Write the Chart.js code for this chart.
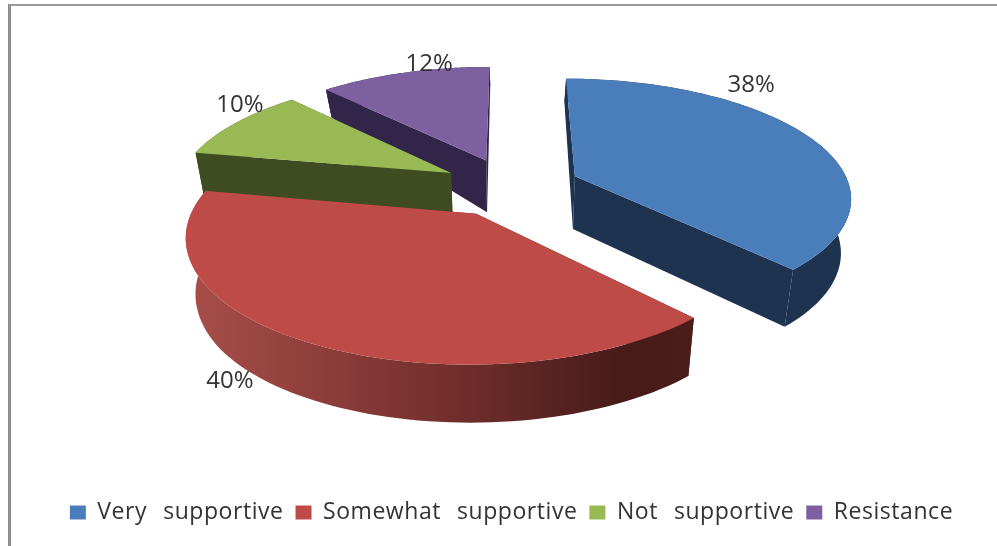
<!DOCTYPE html>
<html lang="en">
<head>
  <meta charset="UTF-8">
  <title>Support levels</title>
  <script src="https://cdn.jsdelivr.net/npm/chart.js"></script>
  <style>
    html, body { margin: 0; padding: 0; background: #fff; overflow: hidden; }
    #wrap { position: relative; width: 997px; height: 546px; }
    #frame { position: absolute; left: 8px; top: 4px; right: 0; bottom: 0;
             border-left: 3px solid #8e8e8e; border-top: 2px solid #9a9a9a; }
    canvas { position: absolute; left: 0; top: 0; }
  </style>
</head>
<body>
  <div id="wrap">
    <div id="frame"></div>
    <canvas id="pie" width="997" height="546"></canvas>
  </div>

  <script>
    const categories = ['Very  supportive', 'Somewhat  supportive', 'Not  supportive', 'Resistance'];
    const shares = [38, 40, 10, 12];
    const topColors = ['#4A7EBB', '#BE4B48', '#98B954', '#7D60A0'];
    const wallColors = ['#1D3350', null, '#3F4B21', '#32254A'];
    // label shift from the rim point of each slice, px
    const labelNudge = [[-58, -52], [-79, 38], [4, -18], [25, -9]];

    // tilted plane: one perspective mapping for all slices
    const view = { cx: 511, cy: 187, f: 275, g: 116.6, k: 0.162, shrink: 0.03 };

    function project(X, Y) {
      const w = 1 - view.k * Y;
      return { x: view.cx + view.f * X / w, y: view.cy + view.g * Y / w };
    }
    // depth of the side wall, thinner towards the back
    function dropAt(Y) {
      if (Y < -0.23) return 52 + (Y + 0.23) * 33;
      return Math.min(58, 52 + (Y + 0.23) * 6);
    }
    function below(X, Y) {
      const p = project(X, Y);
      return { x: p.x + (view.cx - p.x) * view.shrink, y: p.y + dropAt(Y) };
    }
    function poly(ctx, pts) {
      ctx.beginPath();
      pts.forEach((p, i) => i ? ctx.lineTo(p.x, p.y) : ctx.moveTo(p.x, p.y));
      ctx.closePath();
    }

    const pie3d = {
      id: 'pie3d',
      // legend text in the picture is spaced out a bit
      beforeLayout(chart) {
        chart.ctx.letterSpacing = '0.55px';
        chart.ctx.wordSpacing = '1.5px';
      },
      beforeDatasetsDraw(chart) {
        const ctx = chart.ctx;
        const arcs = chart.getDatasetMeta(0).data;
        const slices = arcs.map((el, i) => {
          const mid = (el.startAngle + el.endAngle) / 2;
          const e = el.options.offset / el.outerRadius;
          const ox = e * Math.cos(mid), oy = e * Math.sin(mid);
          const rim = [];
          for (let s = 0; s <= 80; s++) {
            const a = el.startAngle + (el.endAngle - el.startAngle) * s / 80;
            rim.push([ox + Math.cos(a), oy + Math.sin(a)]);
          }
          return { i, ox, oy, mid, rim };
        });

        // back slices first
        slices.slice().sort((a, b) => a.oy - b.oy).forEach(s => {
          const top = s.rim.map(r => project(r[0], r[1]));
          const low = s.rim.map(r => below(r[0], r[1]));
          const apexTop = project(s.ox, s.oy);
          const apexLow = below(s.ox, s.oy);

          let wall = wallColors[s.i];
          if (!wall) {
            const xs = top.map(p => p.x);
            wall = ctx.createLinearGradient(Math.min(...xs), 0, Math.max(...xs), 0);
            wall.addColorStop(0, '#A94E4A');
            wall.addColorStop(0.5, '#75302D');
            wall.addColorStop(0.85, '#481B19');
            wall.addColorStop(1, '#4A1C1A');
          }
          ctx.fillStyle = wall;
          poly(ctx, [apexTop, top[0], low[0], apexLow]);
          ctx.fill();
          poly(ctx, [apexTop, top[top.length - 1], low[low.length - 1], apexLow]);
          ctx.fill();
          poly(ctx, top.concat(low.slice().reverse()));
          ctx.fill();

          ctx.fillStyle = topColors[s.i];
          poly(ctx, [apexTop].concat(top));
          ctx.fill();
        });

        // percent labels
        ctx.save();
        ctx.letterSpacing = '0px';
        ctx.wordSpacing = '0px';
        ctx.font = '24px "Open Sans", sans-serif';
        ctx.fillStyle = '#333';
        ctx.textAlign = 'center';
        ctx.textBaseline = 'middle';
        slices.forEach(s => {
          const p = project(s.ox + Math.cos(s.mid), s.oy + Math.sin(s.mid));
          ctx.fillText(shares[s.i] + '%', p.x + labelNudge[s.i][0], p.y + labelNudge[s.i][1]);
        });
        ctx.restore();
        return false;
      }
    };

    new Chart(document.getElementById('pie'), {
      type: 'pie',
      data: {
        labels: categories,
        datasets: [{ data: shares, backgroundColor: topColors, offset: 55, borderWidth: 0 }]
      },
      options: {
        responsive: false,
        animation: false,
        layout: { padding: { bottom: 12, left: 26 } },
        plugins: {
          tooltip: { enabled: false },
          legend: {
            position: 'bottom',
            labels: {
              color: '#333',
              font: { family: '"Open Sans", sans-serif', size: 23 },
              boxWidth: 16,
              boxHeight: 14,
              padding: 12
            }
          }
        }
      },
      plugins: [pie3d]
    });
  </script>
</body>
</html>
